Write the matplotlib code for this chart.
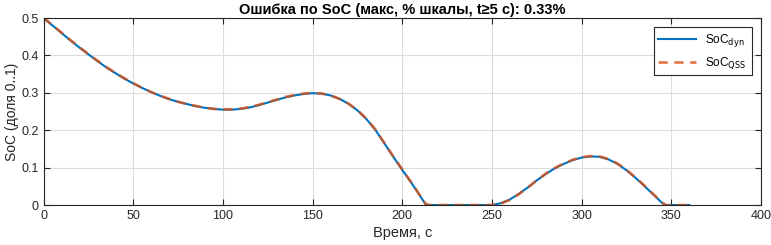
import matplotlib
matplotlib.use("Agg")
import matplotlib.pyplot as plt

# data
t = [0, 5, 10, 15, 20, 25, 30, 35, 40, 45, 50, 55, 60, 65, 70, 75, 80, 85, 90, 95,
     100, 105, 110, 115, 120, 125, 130, 135, 140, 145, 150, 155, 160, 165, 170, 175,
     180, 185, 190, 195, 200, 205, 210, 213, 215, 220, 230, 240, 250, 255, 260, 265,
     270, 275, 280, 285, 290, 295, 300, 305, 310, 315, 320, 325, 330, 335, 340, 345,
     347, 350, 355, 360]
soc_dyn = [0.500, 0.480, 0.460, 0.440, 0.421, 0.403, 0.385, 0.368, 0.353, 0.338,
           0.325, 0.313, 0.302, 0.292, 0.283, 0.276, 0.270, 0.264, 0.260, 0.257,
           0.255, 0.255, 0.257, 0.261, 0.267, 0.274, 0.281, 0.288, 0.293, 0.297,
           0.299, 0.298, 0.293, 0.284, 0.271, 0.253, 0.230, 0.201, 0.165, 0.129,
           0.094, 0.060, 0.024, 0.002, 0.000, 0.000, 0.000, 0.000, 0.000, 0.005,
           0.015, 0.030, 0.047, 0.066, 0.083, 0.098, 0.110, 0.120, 0.127, 0.130,
           0.129, 0.122, 0.110, 0.093, 0.073, 0.051, 0.028, 0.005, 0.000, 0.000,
           0.000, 0.000]
soc_qss = [0.500, 0.481, 0.461, 0.441, 0.422, 0.403, 0.386, 0.369, 0.353, 0.339,
           0.326, 0.313, 0.302, 0.292, 0.284, 0.276, 0.270, 0.265, 0.260, 0.257,
           0.256, 0.256, 0.258, 0.262, 0.268, 0.275, 0.282, 0.289, 0.294, 0.298,
           0.300, 0.298, 0.293, 0.284, 0.271, 0.254, 0.231, 0.202, 0.166, 0.130,
           0.095, 0.061, 0.025, 0.003, 0.000, 0.000, 0.000, 0.000, 0.000, 0.004,
           0.014, 0.029, 0.047, 0.066, 0.084, 0.099, 0.111, 0.121, 0.128, 0.131,
           0.130, 0.123, 0.111, 0.094, 0.074, 0.052, 0.029, 0.006, 0.000, 0.000,
           0.000, 0.000]

plt.rcParams['font.family'] = ['Liberation Sans', 'DejaVu Sans']

fig = plt.figure(figsize=(7.71, 2.45), dpi=100)
ax = fig.add_axes([0.0565, 0.163, 0.9305, 0.7635])

ax.plot(t, soc_dyn, color='#0072BD', lw=1.5, label='SoC$_{\\rm dyn}$')
ax.plot(t, soc_qss, color='#D95319', lw=1.9, ls=(0, (3.5, 2.5)), alpha=0.8,
        label='SoC$_{\\rm QSS}$')

ax.set_xlim(0, 400)
ax.set_ylim(0, 0.5)
ax.set_xticks(range(0, 401, 50))
ax.set_yticks([0, 0.1, 0.2, 0.3, 0.4, 0.5])
ax.set_yticklabels(['0', '0.1', '0.2', '0.3', '0.4', '0.5'])
ax.grid(True, color='#dcdcdc', lw=0.8)
ax.set_axisbelow(True)
ax.tick_params(direction='in', top=True, right=True, length=4, labelsize=9,
               colors='#262626', width=0.8)
for s in ax.spines.values():
    s.set_color('#262626')
    s.set_linewidth(0.8)

ax.set_xlabel('Время, с', fontsize=10.5, color='#262626', labelpad=3)
ax.set_ylabel('SoC (доля 0..1)', fontsize=10, color='#262626', labelpad=2)
ax.set_title('Ошибка по SoC (макс, % шкалы, t≥5 с): 0.33%', fontsize=10.5,
             fontweight='bold', pad=3)

leg = ax.legend(loc='upper right', fontsize=8.5, fancybox=False, framealpha=1,
                edgecolor='#262626', borderaxespad=0.8, handlelength=3.2,
                borderpad=0.4, labelspacing=0.5)
leg.get_frame().set_linewidth(0.8)

fig.savefig('out.png', dpi=100)
